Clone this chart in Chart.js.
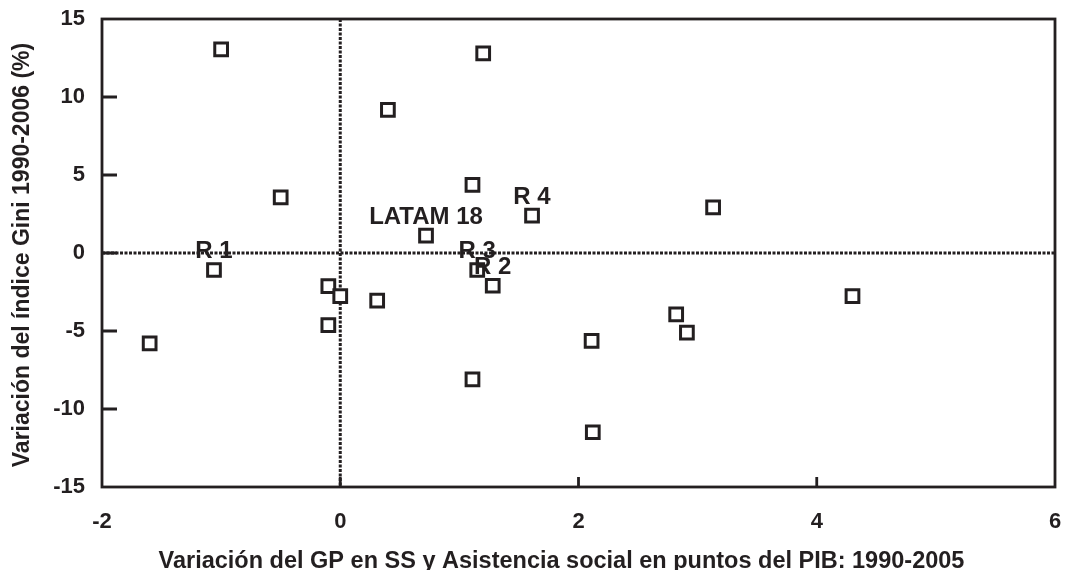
<!DOCTYPE html>
<html>
<head>
<meta charset="utf-8">
<script src="https://cdn.jsdelivr.net/npm/chart.js@4.4.1/dist/chart.umd.min.js"></script>
<style>
  html, body { margin: 0; padding: 0; background: #fff; }
  #wrap { width: 1067px; height: 570px; }
</style>
</head>
<body>
<div id="wrap"><canvas id="giniChart" width="1067" height="570"></canvas></div>
<script>
// Scatter data
const xVals = [-1.0, 1.2, 0.4, 1.11, -0.5, 1.61, 3.13, 0.72, -1.06, 1.15, 1.28,
               -0.1, 0.0, 0.31, -0.1, -1.6, 2.82, 2.91, 2.11, 4.3, 1.11, 2.12];
const yVals = [13.06, 12.8, 9.17, 4.36, 3.57, 2.39, 2.93, 1.11, -1.09, -1.09, -2.1,
               -2.12, -2.76, -3.06, -4.62, -5.79, -3.93, -5.11, -5.64, -2.76, -8.1, -11.49];
const pointLabels = ['', '', '', '', '', 'R 4', '', 'LATAM 18', 'R 1', 'R 3', 'R 2',
                     '', '', '', '', '', '', '', '', '', '', ''];

const xTicks = [-2, 0, 2, 4, 6];
const yTicks = [-15, -10, -5, 0, 5, 10, 15];

const xTitle = 'Variación del GP en SS y Asistencia social en puntos del PIB: 1990-2005';
const yTitle = 'Variación del índice Gini 1990-2006 (%)';

const ink = '#231f20';
const family = '"Liberation Sans", Arial, sans-serif';

// --- frame, inward ticks, zero lines, labels ---
const framePlugin = {
    id: 'frame',
    beforeDatasetsDraw(chart) {
        const { ctx, chartArea: a, scales: { x, y } } = chart;
        const x0 = x.getPixelForValue(0);
        const y0 = y.getPixelForValue(0);
        ctx.save();
        ctx.strokeStyle = ink;
        ctx.lineWidth = 3;
        ctx.setLineDash([3, 1.5]);
        ctx.beginPath();
        ctx.moveTo(x0, a.top);
        ctx.lineTo(x0, a.bottom);
        ctx.moveTo(a.left, y0);
        ctx.lineTo(a.right, y0);
        ctx.stroke();
        ctx.restore();
    },
    afterDatasetsDraw(chart) {
        const { ctx, chartArea: a, scales: { x, y } } = chart;
        ctx.save();
        ctx.strokeStyle = ink;
        ctx.lineWidth = 2.8;
        ctx.strokeRect(a.left, a.top, a.right - a.left, a.bottom - a.top);

        ctx.beginPath();
        yTicks.slice(1, -1).forEach(v => {
            const py = y.getPixelForValue(v);
            ctx.moveTo(a.left, py);
            ctx.lineTo(a.left + 15, py);
        });
        xTicks.slice(1, -1).forEach(v => {
            const px = x.getPixelForValue(v);
            ctx.moveTo(px, a.bottom);
            ctx.lineTo(px, a.bottom - 10);
        });
        ctx.stroke();

        // point labels
        const meta = chart.getDatasetMeta(0);
        ctx.fillStyle = ink;
        ctx.font = 'bold 24px ' + family;
        ctx.textAlign = 'center';
        ctx.textBaseline = 'alphabetic';
        pointLabels.forEach((txt, i) => {
            if (!txt) return;
            const p = meta.data[i];
            ctx.fillText(txt, p.x, p.y - 12);
        });

        // axis titles
        ctx.font = 'bold 23.5px ' + family;
        ctx.fillText(xTitle, (a.left + a.right) / 2 - 17, 568);
        ctx.font = 'bold 23px ' + family;
        ctx.translate(29, (a.top + a.bottom) / 2 + 2);
        ctx.rotate(-Math.PI / 2);
        ctx.fillText(yTitle, 0, 0);
        ctx.restore();
    }
};

const tickFont = { family: family, size: 22, weight: 'bold' };

new Chart(document.getElementById('giniChart'), {
    type: 'scatter',
    data: {
        datasets: [{
            data: xVals.map((v, i) => ({ x: v, y: yVals[i] })),
            pointStyle: 'rect',
            pointRadius: 9,
            pointHoverRadius: 9,
            pointBorderWidth: 3,
            pointBorderColor: ink,
            pointBackgroundColor: '#fff'
        }]
    },
    options: {
        responsive: false,
        animation: false,
        layout: { padding: { top: 19, right: 11, bottom: 0, left: 0 } },
        plugins: { legend: { display: false }, tooltip: { enabled: false } },
        scales: {
            x: {
                type: 'linear',
                min: -2,
                max: 6,
                afterBuildTicks: s => { s.ticks = xTicks.map(v => ({ value: v })); },
                afterFit: s => { s.height = 83; s.paddingLeft = 0; s.paddingRight = 0; },
                grid: { display: false, drawTicks: false },
                border: { display: false },
                ticks: { font: tickFont, color: ink, padding: 22 }
            },
            y: {
                type: 'linear',
                min: -15,
                max: 15,
                afterBuildTicks: s => { s.ticks = yTicks.map(v => ({ value: v })); },
                afterFit: s => { s.width = 102; s.paddingTop = 0; s.paddingBottom = 0; },
                grid: { display: false, drawTicks: false },
                border: { display: false },
                ticks: { font: tickFont, color: ink, padding: 17 }
            }
        }
    },
    plugins: [framePlugin]
});
</script>
</body>
</html>
